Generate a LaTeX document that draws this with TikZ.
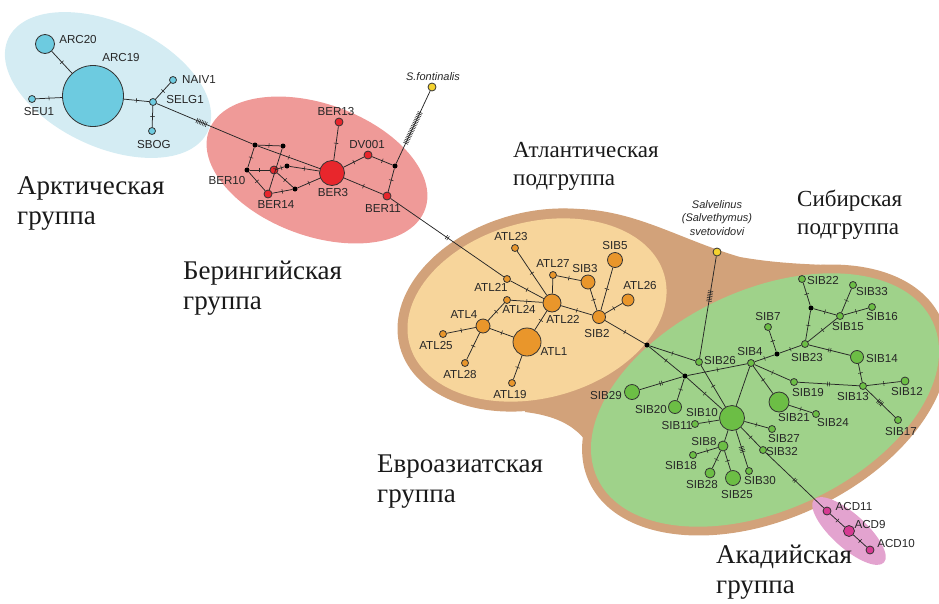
\documentclass[tikz,border=0pt]{standalone}
\usepackage{fontspec}
\setmainfont{Liberation Serif}
\setsansfont{Liberation Sans}
\usetikzlibrary{decorations.markings}

\definecolor{arcbg}{HTML}{D4ECF3}
\definecolor{arcnode}{HTML}{6DCBE0}
\definecolor{berbg}{HTML}{EF9A98}
\definecolor{bernode}{HTML}{E8262C}
\definecolor{atlbg}{HTML}{F7D59B}
\definecolor{atlnode}{HTML}{E9962B}
\definecolor{eurbg}{HTML}{D2A27A}
\definecolor{sibbg}{HTML}{9FD28A}
\definecolor{sibnode}{HTML}{6CBE45}
\definecolor{acdbg}{HTML}{E3A3CF}
\definecolor{acdnode}{HTML}{D63A92}
\definecolor{outnode}{HTML}{F4D22F}

\tikzset{
  hap/.style={circle,draw=black!80,line width=0.8pt,inner sep=0pt,minimum size=7pt},
  harc/.style={hap,fill=arcnode},
  hber/.style={hap,fill=bernode,minimum size=8pt},
  hatl/.style={hap,fill=atlnode},
  hsib/.style={hap,fill=sibnode},
  hacd/.style={hap,fill=acdnode,minimum size=8pt},
  hout/.style={hap,fill=outnode,minimum size=8pt},
  mv/.style={circle,fill=black,inner sep=0pt,minimum size=5pt},
  lnk/.style={draw=black!85,line width=0.75pt},
  mut/.style={postaction={decorate,decoration={markings,mark=at position 0.5 with {\draw[line width=0.55pt] (0,-2.3pt) -- (0,2.3pt);}}}},
  mutt/.style={postaction={decorate,decoration={markings,mark=at position 0.5 with {\draw[line width=0.55pt] (-1pt,-2.3pt) -- (-1pt,2.3pt) (1pt,-2.3pt) -- (1pt,2.3pt);}}}},
  hatch/.style 2 args={postaction={decorate,decoration={markings,mark=between positions #1 and #2 step 1.7pt with {\draw[line width=0.55pt] (0,-2.6pt) -- (0,2.6pt);}}}},
  lab/.style={font=\sffamily\fontsize{11.6}{13}\selectfont,inner sep=0pt,text=black!85},
  ital/.style={lab,font=\sffamily\itshape\fontsize{11}{13.5}\selectfont,align=center},
  grp/.style={font=\fontsize{27}{30}\selectfont,align=left,anchor=north west,inner sep=0pt,text=black!90},
  subgrp/.style={grp,font=\fontsize{23}{28}\selectfont}
}

\begin{document}
\begin{tikzpicture}[x=1pt,y=-1pt]
\useasboundingbox (0,0) rectangle (939,603);

% group areas
\fill[arcbg,rotate around={-25:(108,85)}] (108,85) ellipse [x radius=110pt,y radius=62pt];
\fill[berbg,rotate around={-20:(317,170)}] (317,170) ellipse [x radius=115pt,y radius=66pt];
\fill[eurbg,rotate around={15:(537,310)}] (537,310) ellipse [x radius=142pt,y radius=98pt];
\fill[eurbg,rotate around={25:(765,400)}] (765,400) ellipse [x radius=194pt,y radius=119pt];
\fill[eurbg] (563,209) .. controls (630,206) and (675,238) .. (740,257)
  .. controls (780,264) and (810,264) .. (845,266) -- (800,420) -- (600,470)
  .. controls (590,440) and (575,418) .. (525,412) -- (560,300) -- cycle;
\fill[atlbg,rotate around={15:(537,310)}] (537,310) ellipse [x radius=132pt,y radius=88pt];
\fill[sibbg,rotate around={25:(765,400)}] (765,400) ellipse [x radius=185pt,y radius=110pt];
\fill[acdbg,rotate around={-42:(849,531)}] (849,531) ellipse [x radius=47pt,y radius=17pt];

% Arctic
\node[harc,minimum size=19pt] (ARC20) at (45,44) {};
\node[harc,minimum size=61pt] (ARC19) at (93,96) {};
\node[harc] (SEU1) at (32,99) {};
\node[harc] (SELG1) at (153,102) {};
\node[harc] (NAIV1) at (173,80) {};
\node[harc] (SBOG) at (152,131) {};

% Bering
\node[mv] (mv1) at (255,145) {};
\node[mv] (mv2) at (283,146) {};
\node[mv] (mv3) at (247,170) {};
\node[mv] (mv4) at (287,166) {};
\node[mv] (mv5) at (295,189) {};
\node[mv] (mv6) at (395,166) {};
\node[hber] (BER10) at (274,170) {};
\node[hber] (BER14) at (268,194) {};
\node[hber,minimum size=25pt] (BER3) at (332,173) {};
\node[hber] (BER13) at (339,122) {};
\node[hber] (DV001) at (368,155) {};
\node[hber] (BER11) at (387,196) {};
\node[hout] (SFONT) at (432,87) {};

% Atlantic
\node[hatl] (ATL23) at (515,248) {};
\node[hatl] (ATL21) at (507,279) {};
\node[hatl] (ATL27) at (553,275) {};
\node[hatl,minimum size=14pt] (SIB3) at (588,282) {};
\node[hatl,minimum size=15pt] (SIB5) at (615,260) {};
\node[hatl,minimum size=12pt] (ATL26) at (628,300) {};
\node[hatl,minimum size=13pt] (SIB2) at (599,317) {};
\node[hatl,minimum size=18pt] (ATL22) at (552,303) {};
\node[hatl] (ATL24) at (507,300) {};
\node[hatl,minimum size=14pt] (ATL4) at (483,326) {};
\node[hatl] (ATL25) at (443,334) {};
\node[hatl] (ATL28) at (465,363) {};
\node[hatl,minimum size=28pt] (ATL1) at (527,342) {};
\node[hatl] (ATL19) at (512,383) {};

% Siberian
\node[mv] (mv7) at (647,345) {};
\node[mv] (mv8) at (685,376) {};
\node[mv] (mv9) at (811,308) {};
\node[mv] (mv10) at (777,354) {};
\node[hout] (SALV) at (717,252) {};
\node[hsib] (SIB26) at (699,362) {};
\node[hsib] (SIB4) at (751,363) {};
\node[hsib,minimum size=15pt] (SIB29) at (632,392) {};
\node[hsib,minimum size=13pt] (SIB20) at (675,407) {};
\node[hsib,minimum size=25pt] (SIB10) at (732,418) {};
\node[hsib] (SIB11) at (695,424) {};
\node[hsib,minimum size=20pt] (SIB21) at (779,402) {};
\node[hsib] (SIB19) at (794,382) {};
\node[hsib] (SIB24) at (816,414) {};
\node[hsib] (SIB27) at (772,429) {};
\node[hsib] (SIB32) at (763,450) {};
\node[hsib,minimum size=10pt] (SIB8) at (723,446) {};
\node[hsib] (SIB18) at (693,455) {};
\node[hsib,minimum size=10pt] (SIB28) at (710,473) {};
\node[hsib,minimum size=15pt] (SIB25) at (733,478) {};
\node[hsib] (SIB30) at (749,471) {};
\node[hsib] (SIB22) at (802,279) {};
\node[hsib] (SIB33) at (853,285) {};
\node[hsib] (SIB15) at (840,316) {};
\node[hsib] (SIB16) at (872,307) {};
\node[hsib] (SIB7) at (768,327) {};
\node[hsib] (SIB23) at (805,344) {};
\node[hsib,minimum size=13pt] (SIB14) at (857,357) {};
\node[hsib] (SIB13) at (863,386) {};
\node[hsib,minimum size=8pt] (SIB12) at (905,381) {};
\node[hsib] (SIB17) at (898,420) {};

% Acadian
\node[hacd] (ACD11) at (827,511) {};
\node[hacd,minimum size=11pt] (ACD9) at (849,531) {};
\node[hacd] (ACD10) at (870,550) {};

% connections
\draw[lnk,mut] (ARC20) -- (ARC19);
\draw[lnk,mut] (SEU1) -- (ARC19);
\draw[lnk,mut] (ARC19) -- (SELG1);
\draw[lnk,mut] (SELG1) -- (NAIV1);
\draw[lnk,mut] (SELG1) -- (SBOG);
\draw[lnk,hatch={0.42}{0.52}] (SELG1) -- (mv1);

\draw[lnk,mut] (mv1) -- (mv2);
\draw[lnk,mut] (mv1) -- (mv3);
\draw[lnk,mut] (mv1) -- (BER3);
\draw[lnk,mut] (mv2) -- (BER14);
\draw[lnk,mut] (mv3) -- (BER10);
\draw[lnk,mut] (mv3) -- (BER14);
\draw[lnk,mut] (BER10) -- (mv5);
\draw[lnk,mut] (BER10) -- (mv4);
\draw[lnk,mut] (mv4) -- (BER3);
\draw[lnk,mut] (BER14) -- (mv5);
\draw[lnk,mut] (mv5) -- (BER3);
\draw[lnk,mut] (BER3) -- (BER13);
\draw[lnk,mut] (BER3) -- (DV001);
\draw[lnk,mut] (BER3) -- (BER11);
\draw[lnk,mut] (DV001) -- (mv6);
\draw[lnk,mut] (mv6) -- (BER11);
\draw[lnk,hatch={0.28}{0.72}] (mv6) -- (SFONT);

\draw[lnk,mutt] (BER11) -- (ATL21);
\draw[lnk,mut] (ATL21) -- (ATL22);
\draw[lnk,mut] (ATL23) -- (ATL22);
\draw[lnk] (ATL27) -- (ATL22);
\draw[lnk,mut] (ATL27) -- (SIB3);
\draw[lnk,mut] (ATL24) -- (ATL22);
\draw[lnk,mut] (ATL24) -- (ATL4);
\draw[lnk,mut] (ATL4) -- (ATL25);
\draw[lnk,mut] (ATL4) -- (ATL28);
\draw[lnk,mut] (ATL4) -- (ATL1);
\draw[lnk,mut] (ATL1) -- (ATL22);
\draw[lnk,mut] (ATL1) -- (ATL19);
\draw[lnk,mut] (ATL22) -- (SIB2);
\draw[lnk,mut] (SIB3) -- (SIB2);
\draw[lnk,mut] (SIB5) -- (SIB2);
\draw[lnk,mut] (ATL26) -- (SIB2);
\draw[lnk,mut] (SIB2) -- (mv7);

\draw[lnk,mut] (mv7) -- (SIB26);
\draw[lnk,mut] (mv7) -- (mv8);
\draw[lnk,mutt] (SIB29) -- (mv8);
\draw[lnk,mut] (mv8) -- (SIB20);
\draw[lnk,mut] (mv8) -- (SIB4);
\draw[lnk,mut] (mv8) -- (SIB10);
\draw[lnk,mut] (SIB26) -- (SIB10);
\draw[lnk,hatch={0.56}{0.66}] (SIB26) -- (SALV);
\draw[lnk] (SIB4) -- (SIB10);
\draw[lnk,mut] (SIB4) -- (SIB21);
\draw[lnk,mut] (SIB4) -- (SIB19);
\draw[lnk,mut] (SIB4) -- (mv10);
\draw[lnk,mut] (SIB7) -- (mv10);
\draw[lnk,mut] (mv10) -- (SIB23);
\draw[lnk,mut] (SIB23) -- (mv9);
\draw[lnk,mut] (mv9) -- (SIB22);
\draw[lnk,mut] (mv9) -- (SIB15);
\draw[lnk,mut] (SIB23) -- (SIB15);
\draw[lnk,mut] (SIB15) -- (SIB33);
\draw[lnk,mut] (SIB15) -- (SIB16);
\draw[lnk,mutt] (SIB23) -- (SIB14);
\draw[lnk,mut] (SIB14) -- (SIB13);
\draw[lnk,mutt] (SIB19) -- (SIB13);
\draw[lnk,mut] (SIB13) -- (SIB12);
\draw[lnk,hatch={0.42}{0.56}] (SIB13) -- (SIB17);
\draw[lnk,mut] (SIB21) -- (SIB24);
\draw[lnk,mut] (SIB10) -- (SIB11);
\draw[lnk,mut] (SIB10) -- (SIB27);
\draw[lnk] (SIB10) -- (SIB8);
\draw[lnk,hatch={0.45}{0.6}] (SIB10) -- (SIB30);
\draw[lnk,mut] (SIB10) -- (SIB32);
\draw[lnk,mutt] (SIB32) -- (ACD11);
\draw[lnk,mut] (SIB8) -- (SIB18);
\draw[lnk,mut] (SIB8) -- (SIB28);
\draw[lnk,mut] (SIB8) -- (SIB25);
\draw[lnk,mut] (ACD11) -- (ACD9);
\draw[lnk,mut] (ACD9) -- (ACD10);

% labels
\node[lab] (tARC20) at (78,40) {ARC20};
\node[lab] (tARC19) at (121,58) {ARC19};
\node[lab] (tNAIV1) at (199,80) {NAIV1};
\node[lab] (tSELG1) at (185,100) {SELG1};
\node[lab] (tSEU1) at (39,112) {SEU1};
\node[lab] (tSBOG) at (154,145) {SBOG};
\node[lab] (tBER13) at (336,112) {BER13};
\node[lab] (tDV001) at (367,145) {DV001};
\node[lab] (tBER10) at (227,181) {BER10};
\node[lab] (tBER14) at (276,205) {BER14};
\node[lab] (tBER3) at (333,193) {BER3};
\node[lab] (tBER11) at (383,209) {BER11};
\node[ital] (tSFONT) at (433,77) {S.fontinalis};
\node[lab] (tATL23) at (511,236) {ATL23};
\node[lab] (tATL21) at (491,287) {ATL21};
\node[lab] (tATL27) at (553,263) {ATL27};
\node[lab] (tSIB3) at (585,268) {SIB3};
\node[lab] (tSIB5) at (615,246) {SIB5};
\node[lab] (tATL26) at (640,285) {ATL26};
\node[lab] (tATL24) at (519,309) {ATL24};
\node[lab] (tATL22) at (563,319) {ATL22};
\node[lab] (tSIB2) at (597,333) {SIB2};
\node[lab] (tATL4) at (464,315) {ATL4};
\node[lab] (tATL25) at (436,345) {ATL25};
\node[lab] (tATL1) at (554,352) {ATL1};
\node[lab] (tATL28) at (460,374) {ATL28};
\node[lab] (tATL19) at (510,394) {ATL19};
\node[ital] (tSALV) at (717,218) {Salvelinus\\(Salvethymus)\\svetovidovi};
\node[lab] (tSIB26) at (720,360) {SIB26};
\node[lab] (tSIB4) at (750,351) {SIB4};
\node[lab] (tSIB29) at (606,395) {SIB29};
\node[lab] (tSIB20) at (651,409) {SIB20};
\node[lab] (tSIB10) at (702,412) {SIB10};
\node[lab] (tSIB11) at (677,425) {SIB11};
\node[lab] (tSIB8) at (704,441) {SIB8};
\node[lab] (tSIB18) at (681,465) {SIB18};
\node[lab] (tSIB28) at (702,484) {SIB28};
\node[lab] (tSIB25) at (737,494) {SIB25};
\node[lab] (tSIB30) at (760,480) {SIB30};
\node[lab] (tSIB32) at (782,451) {SIB32};
\node[lab] (tSIB27) at (784,438) {SIB27};
\node[lab] (tSIB21) at (794,417) {SIB21};
\node[lab] (tSIB19) at (808,392) {SIB19};
\node[lab] (tSIB24) at (833,422) {SIB24};
\node[lab] (tSIB22) at (823,280) {SIB22};
\node[lab] (tSIB33) at (872,291) {SIB33};
\node[lab] (tSIB16) at (882,316) {SIB16};
\node[lab] (tSIB15) at (848,326) {SIB15};
\node[lab] (tSIB7) at (768,316) {SIB7};
\node[lab] (tSIB23) at (807,357) {SIB23};
\node[lab] (tSIB14) at (882,358) {SIB14};
\node[lab] (tSIB13) at (853,396) {SIB13};
\node[lab] (tSIB12) at (907,391) {SIB12};
\node[lab] (tSIB17) at (901,431) {SIB17};
\node[lab] (tACD11) at (854,506) {ACD11};
\node[lab] (tACD9) at (870,524) {ACD9};
\node[lab] (tACD10) at (896,543) {ACD10};

% group names
\node[grp] (gArc) at (17,176) {Арктическая\\группа};
\node[grp] (gBer) at (183,261) {Берингийская\\группа};
\node[subgrp] (gAtl) at (513,142) {Атлантическая\\подгруппа};
\node[subgrp] (gSib) at (797,190) {Сибирская\\подгруппа};
\node[grp] (gEur) at (377,455) {Евроазиатская\\группа};
\node[grp] (gAcd) at (716,545) {Акадийская\\группа};
\end{tikzpicture}
\end{document}
